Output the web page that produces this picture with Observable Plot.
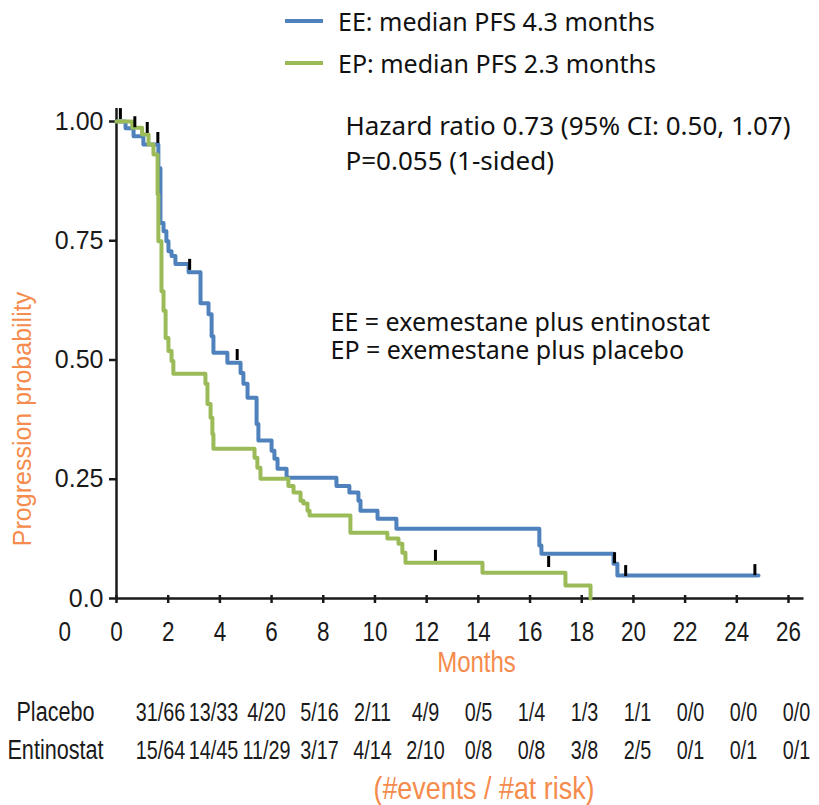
<!DOCTYPE html>
<html>
<head>
<meta charset="utf-8">
<script src="https://cdn.jsdelivr.net/npm/d3@7"></script>
<script src="https://cdn.jsdelivr.net/npm/@observablehq/plot@0.6"></script>
<style>
  body { margin: 0; background: #fff; }
  #wrap { position: relative; width: 819px; height: 805px; overflow: hidden; background: #fff; }
  #main { position: absolute; left: 0; top: 0; }
  #table { position: absolute; left: 0; top: 685px; }
  .leg { position: absolute; left: 285px; height: 30px; display: flex; align-items: center;
         font-family: "Noto Sans", sans-serif; font-size: 25px; color: #111; white-space: nowrap; }
  .sw { display: inline-block; width: 38px; height: 4px; margin-right: 15px; }
  #cap { position: absolute; left: 284px; width: 400px; top: 771px; height: 34px; line-height: 34px; text-align: center;
         font-family: "Liberation Sans", Arial, sans-serif; font-size: 32px; color: #F58B4C;
         transform: scaleX(0.84); transform-origin: 200px 50%; white-space: nowrap; }
  #ylab { position: absolute; left: 22px; top: 419px; transform: translate(-50%, -50%) rotate(-90deg);
          font-family: "Liberation Sans", Arial, sans-serif; font-size: 25px; color: #F58B4C; white-space: nowrap; }
</style>
</head>
<body>
<div id="wrap">
  <div id="main"></div>
  <div id="table"></div>
  <div class="leg" id="leg1" style="top:6px"><span class="sw" style="background:#4F81BD"></span><span id="legText1"></span></div>
  <div class="leg" id="leg2" style="top:48px"><span class="sw" style="background:#9BBB59"></span><span id="legText2"></span></div>
  <div id="ylab"></div>
  <div id="cap"></div>
</div>
<script>
// ---- Data ----
const seriesNames = ["EE: median PFS 4.3 months", "EP: median PFS 2.3 months"];
const seriesColors = ["#4F81BD", "#9BBB59"];

// EE (exemestane plus entinostat) Kaplan-Meier steps
const eeTime = [0, 0.35, 0.66, 1.04, 1.62, 1.70, 1.82, 1.93, 2.01, 2.13, 2.28, 2.79, 3.25, 3.56, 3.68, 3.75, 4.29, 4.80, 4.91, 5.07, 5.42, 5.49, 6.00, 6.11, 6.23, 6.58, 8.51, 9.01, 9.36, 9.44, 10.10, 10.83, 16.36, 16.44, 19.23, 19.38, 24.84];
const eeSurv = [1, 0.986, 0.969, 0.952, 0.902, 0.787, 0.770, 0.749, 0.728, 0.718, 0.701, 0.684, 0.619, 0.596, 0.550, 0.515, 0.494, 0.473, 0.450, 0.421, 0.366, 0.331, 0.310, 0.293, 0.272, 0.253, 0.236, 0.222, 0.205, 0.184, 0.167, 0.146, 0.111, 0.094, 0.073, 0.048, 0.048];

// EP (exemestane plus placebo) Kaplan-Meier steps
const epTime = [0, 0.61, 0.99, 1.24, 1.43, 1.59, 1.62, 1.74, 1.82, 1.90, 2.01, 2.13, 2.20, 3.44, 3.52, 3.64, 3.71, 3.75, 5.34, 5.45, 5.57, 6.65, 6.85, 7.12, 7.23, 7.39, 7.47, 9.05, 10.48, 10.91, 11.06, 11.18, 14.16, 17.37, 18.34];
const epSurv = [1, 0.987, 0.973, 0.952, 0.931, 0.847, 0.749, 0.644, 0.603, 0.546, 0.519, 0.498, 0.471, 0.450, 0.408, 0.379, 0.345, 0.314, 0.295, 0.274, 0.251, 0.236, 0.222, 0.205, 0.199, 0.184, 0.174, 0.138, 0.126, 0.115, 0.096, 0.075, 0.054, 0.027, 0];

// Censor marks
const censorTime = [0.15, 0.71, 1.19, 1.60, 2.83, 4.67, 12.34, 16.72, 19.27, 19.70, 24.70];
const censorSurv = [1.004, 0.987, 0.975, 0.954, 0.688, 0.499, 0.078, 0.065, 0.073, 0.046, 0.048];

// Axes
const xTicks = [0, 2, 4, 6, 8, 10, 12, 14, 16, 18, 20, 22, 24, 26];
const yTicks = [0, 0.25, 0.5, 0.75, 1];
const yTickLabels = ["0.0", "0.25", "0.50", "0.75", "1.00"];
const xLabel = "Months";
const yLabel = "Progression probability";

// Annotations
const hazardText = ["Hazard ratio 0.73 (95% CI: 0.50, 1.07)", "P=0.055 (1-sided)"];
const abbrevText = ["EE = exemestane plus entinostat", "EP = exemestane plus placebo"];

// Number-at-risk table
const riskGroups = ["Placebo", "Entinostat"];
const riskMonths = [0, 2, 4, 6, 8, 10, 12, 14, 16, 18, 20, 22, 24];
const placeboEvents = [31, 13, 4, 5, 2, 4, 0, 1, 1, 1, 0, 0, 0];
const placeboAtRisk = [66, 33, 20, 16, 11, 9, 5, 4, 3, 1, 0, 0, 0];
const entinostatEvents = [15, 14, 11, 3, 4, 2, 0, 0, 3, 2, 0, 0, 0];
const entinostatAtRisk = [64, 45, 29, 17, 14, 10, 8, 8, 8, 5, 1, 1, 1];
const riskCaption = "(#events / #at risk)";

// ---- Build ----
const ORANGE = "#F58B4C";
const SANS = "Liberation Sans, Arial, sans-serif";
const ee = eeTime.map((t, i) => ({t, s: eeSurv[i]}));
const ep = epTime.map((t, i) => ({t, s: epSurv[i]}));
const censor = censorTime.map((t, i) => ({t, s: censorSurv[i]}));

document.getElementById("legText1").textContent = seriesNames[0];
document.getElementById("legText2").textContent = seriesNames[1];
document.getElementById("cap").textContent = riskCaption;
document.getElementById("ylab").textContent = yLabel;

// condense SVG text horizontally (no condensed font installed)
function condense(nodes, f) {
  nodes.forEach(t => {
    const w = t.getComputedTextLength();
    t.setAttribute("textLength", (w * f).toFixed(1));
    t.setAttribute("lengthAdjust", "spacingAndGlyphs");
  });
}

const main = Plot.plot({
  width: 819, height: 685,
  marginLeft: 116, marginRight: 31, marginTop: 121, marginBottom: 87,
  x: {domain: [0, 26]},
  y: {domain: [0, 1]},
  style: {background: "white", color: "#1a1a1a", overflow: "visible"},
  marks: [
    Plot.axisY(yTicks, {tickSize: 7, tickPadding: 6, tickFormat: d => yTickLabels[yTicks.indexOf(d)],
      fontSize: 25, fontFamily: SANS, label: null, strokeWidth: 2.5}),
    Plot.axisX(xTicks, {tickSize: 8, tickPadding: 18, dy: -3, fontSize: 28, fontFamily: SANS, label: null, strokeWidth: 2.5, className: "cond"}),
    Plot.axisX([-2], {tickSize: 0, tickPadding: 26, dy: -3, tickFormat: () => "0", fontSize: 28, fontFamily: SANS, label: null, className: "cond"}),
    Plot.ruleX([0], {y1: 0, y2: 1.027, stroke: "#1a1a1a", strokeWidth: 2.5}),
    Plot.ruleY([0], {x1: 0, x2: 26.6, stroke: "#1a1a1a", strokeWidth: 2.5}),
    Plot.line(ee, {x: "t", y: "s", curve: "step-after", stroke: seriesColors[0], strokeWidth: 4}),
    Plot.line(ep, {x: "t", y: "s", curve: "step-after", stroke: seriesColors[1], strokeWidth: 4}),
    Plot.ruleX(censor, {x: "t", y1: "s", y2: d => d.s + 0.023, stroke: "black", strokeWidth: 3}),
    Plot.text([hazardText.join("\n")], {text: d => d, frameAnchor: "top-left", textAnchor: "start", lineAnchor: "top",
      dx: 229, dy: -12, fontSize: 26, lineHeight: 1.36, fontFamily: "Noto Sans, sans-serif", fill: "#111"}),
    Plot.text([abbrevText.join("\n")], {text: d => d, frameAnchor: "top-left", textAnchor: "start", lineAnchor: "top",
      dx: 214, dy: 189, fontSize: 25, lineHeight: 1.13, fontFamily: "Noto Sans, sans-serif", fill: "#111"}),
    Plot.text([xLabel], {text: d => d, frameAnchor: "bottom", lineAnchor: "middle", dx: 24, dy: 64, fontSize: 30,
      fontFamily: SANS, fill: ORANGE, className: "cond"})
  ]
});
document.getElementById("main").appendChild(main);
condense(main.querySelectorAll(".cond text"), 0.8);

const riskRows = [];
riskMonths.forEach((m, i) => {
  riskRows.push({m, group: "Placebo", label: `${placeboEvents[i]}/${placeboAtRisk[i]}`});
  riskRows.push({m, group: "Entinostat", label: `${entinostatEvents[i]}/${entinostatAtRisk[i]}`});
});

const table = Plot.plot({
  width: 819, height: 120,
  marginLeft: 160, marginRight: 23, marginTop: 27, marginBottom: 55,
  x: {domain: [0, 24], axis: null},
  y: {type: "point", domain: riskGroups, range: [27, 65], padding: 0, axis: null},
  style: {background: "white", color: "#1a1a1a", overflow: "visible"},
  marks: [
    Plot.text(riskRows, {x: "m", y: "group", text: "label", fontSize: 26, fontFamily: SANS, fill: "#1a1a1a", className: "vals"}),
    Plot.text(riskGroups, {y: d => d, text: d => d, frameAnchor: "left", textAnchor: "middle", dx: -105, fontSize: 27, fontFamily: SANS, fill: "#1a1a1a", className: "rowlab"})
  ]
});
document.getElementById("table").appendChild(table);
condense(table.querySelectorAll(".vals text"), 0.76);
condense(table.querySelectorAll(".rowlab text"), 0.8);
</script>
</body>
</html>
